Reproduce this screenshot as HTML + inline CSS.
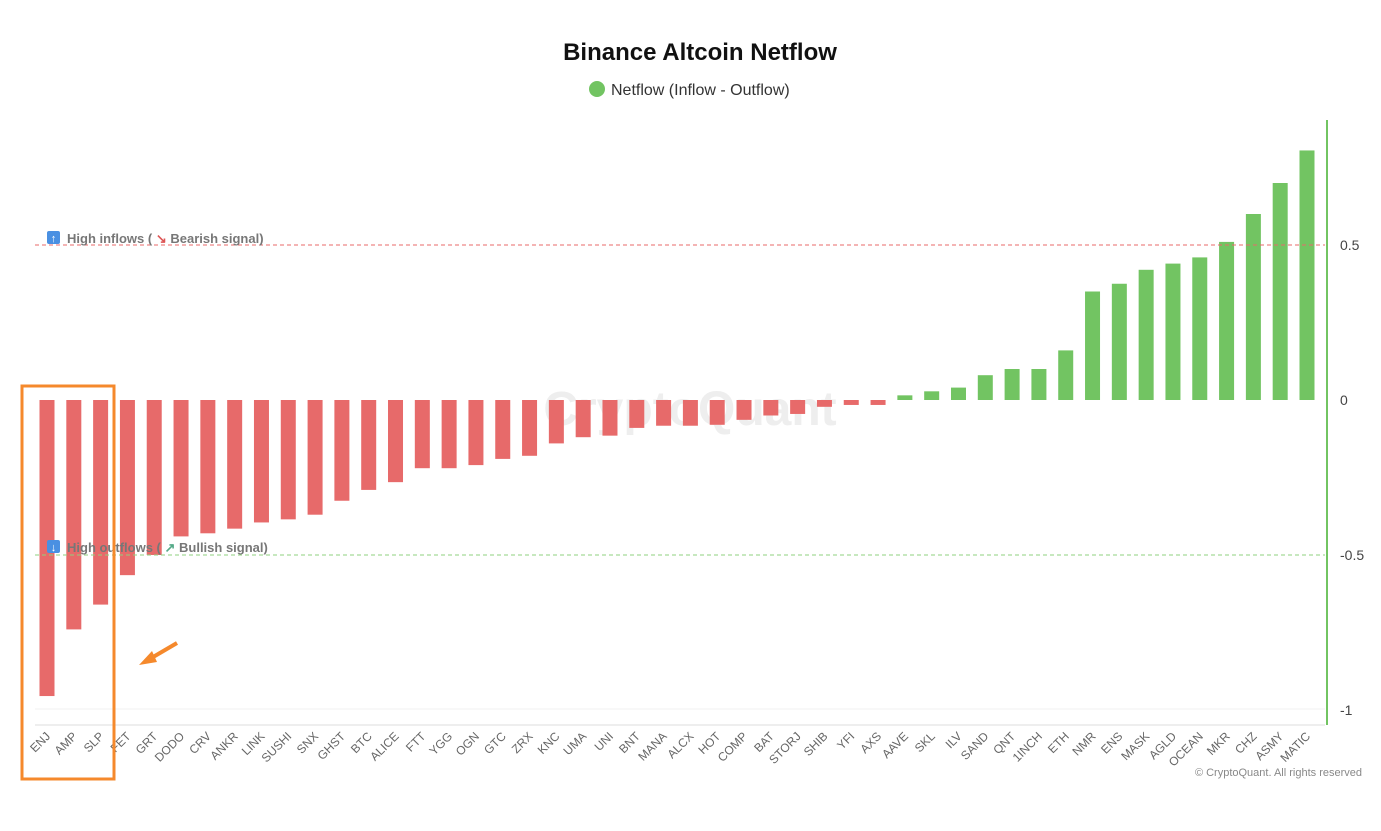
<!DOCTYPE html>
<html><head><meta charset="utf-8"><style>
body{margin:0;background:#fff;width:1381px;height:826px;overflow:hidden;font-family:"Liberation Sans",sans-serif}
</style></head><body>
<svg id="chart" width="1381" height="826">
<text x="700" y="60" text-anchor="middle" font-size="24" font-weight="bold" fill="#111">Binance Altcoin Netflow</text>
<g><circle cx="597" cy="89" r="8" fill="#72c462"/><text x="611" y="95" font-size="16" fill="#333">Netflow (Inflow - Outflow)</text></g>
<text x="690" y="425" text-anchor="middle" font-size="48" font-weight="bold" fill="#eee">CryptoQuant</text>
<g id="bars"></g>
<line x1="35" y1="725" x2="1325" y2="725" stroke="#ddd"/>
<line x1="35" y1="709" x2="1325" y2="709" stroke="#f2f2f2"/>
<line x1="1327" y1="120" x2="1327" y2="725" stroke="#72c462" stroke-width="2"/>
<g id="yt"></g><g id="xl"></g>
<line id="hi" x1="35" x2="1325" stroke="#e86a6a" stroke-dasharray="4,3"/>
<line id="lo" x1="35" x2="1325" stroke="#8fd07f" stroke-dasharray="4,3"/>
<g><rect x="47" y="231" width="13" height="13" rx="2" fill="#4a90e2"/><text x="53.5" y="242" text-anchor="middle" font-size="11" fill="#fff">↑</text><text x="67" y="243" font-size="13" font-weight="bold" fill="#777">High inflows ( <tspan fill="#d55">↘</tspan> Bearish signal)</text></g>
<g><rect x="47" y="540" width="13" height="13" rx="2" fill="#4a90e2"/><text x="53.5" y="551" text-anchor="middle" font-size="11" fill="#fff">↓</text><text x="67" y="552" font-size="13" font-weight="bold" fill="#777">High outflows ( <tspan fill="#5a8">↗</tspan> Bullish signal)</text></g>
<rect x="22" y="386" width="92" height="393" fill="none" stroke="#f5892c" stroke-width="3"/>
<g><line x1="177" y1="643" x2="148" y2="660" stroke="#f5892c" stroke-width="4"/><polygon points="139,665 152,651 157,662" fill="#f5892c"/></g>
<text x="1362" y="776" text-anchor="end" font-size="11" fill="#888">© CryptoQuant. All rights reserved</text>
</svg>
<script>
const categories=["ENJ","AMP","SLP","FET","GRT","DODO","CRV","ANKR","LINK","SUSHI","SNX","GHST","BTC","ALICE","FTT","YGG","OGN","GTC","ZRX","KNC","UMA","UNI","BNT","MANA","ALCX","HOT","COMP","BAT","STORJ","SHIB","YFI","AXS","AAVE","SKL","ILV","SAND","QNT","1INCH","ETH","NMR","ENS","MASK","AGLD","OCEAN","MKR","CHZ","ASMY","MATIC"];
const netflow=[-0.955,-0.74,-0.66,-0.565,-0.5,-0.44,-0.43,-0.415,-0.395,-0.385,-0.37,-0.325,-0.29,-0.265,-0.22,-0.22,-0.21,-0.19,-0.18,-0.14,-0.12,-0.115,-0.09,-0.083,-0.083,-0.08,-0.064,-0.05,-0.045,-0.022,-0.016,-0.016,0.015,0.028,0.04,0.08,0.1,0.1,0.16,0.35,0.375,0.42,0.44,0.46,0.51,0.6,0.7,0.805];
const yTicks=[0.5,0,-0.5,-1];
const yTickLabels=["0.5","0","-0.5","-1"];
const thresholds=[0.5,-0.5];
const ns="http://www.w3.org/2000/svg";
const y=v=>400-v*310;
const x=i=>47+i*(1307-47)/(categories.length-1);
const bars=document.getElementById('bars'),xl=document.getElementById('xl'),yt=document.getElementById('yt');
categories.forEach((c,i)=>{
 const v=netflow[i];const r=document.createElementNS(ns,'rect');
 r.setAttribute('x',x(i)-7.5);r.setAttribute('width',15);
 r.setAttribute('y',Math.min(y(0),y(v)));r.setAttribute('height',Math.abs(y(v)-y(0)));
 r.setAttribute('fill',v<0?'#e76a6a':'#72c462');
 
 
 bars.appendChild(r);
 const t=document.createElementNS(ns,'text');
 t.setAttribute('transform',`translate(${x(i)+4},${737}) rotate(-45)`);
 t.setAttribute('text-anchor','end');t.setAttribute('font-size','12');t.setAttribute('fill','#666');
 t.textContent=c;
 
 
 xl.appendChild(t);
});
yTicks.forEach((v,i)=>{
 const t=document.createElementNS(ns,'text');
 t.setAttribute('x',1340);t.setAttribute('y',y(v)+5);t.setAttribute('font-size','14');t.setAttribute('fill','#444');
 t.textContent=yTickLabels[i];
 
 
 yt.appendChild(t);
});
const hi=document.getElementById('hi');hi.setAttribute('y1',y(thresholds[0]));hi.setAttribute('y2',y(thresholds[0]));
const lo=document.getElementById('lo');lo.setAttribute('y1',y(thresholds[1]));lo.setAttribute('y2',y(thresholds[1]));
</script>
</body></html>
